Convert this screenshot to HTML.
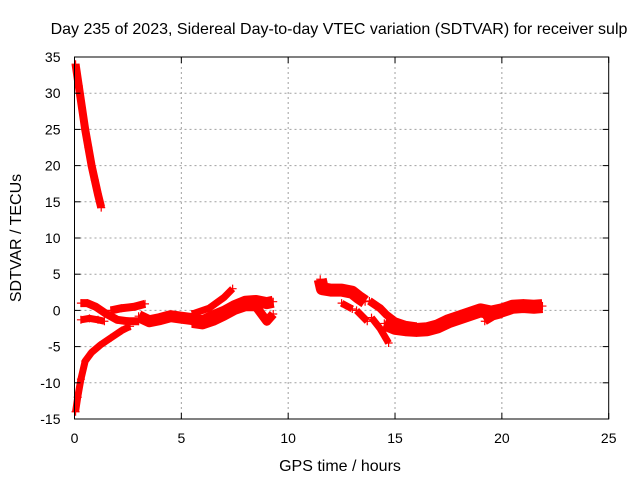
<!DOCTYPE html>
<html><head><meta charset="utf-8"><style>
body{margin:0;background:#fff}
svg text{font-family:"Liberation Sans",sans-serif;font-size:14px;fill:#000}
svg text.big{font-size:16px}
</style></head><body>
<svg id="chart" width="640" height="480" xmlns="http://www.w3.org/2000/svg">
<text class="big" x="339" y="34" text-anchor="middle">Day 235 of 2023, Sidereal Day-to-day VTEC variation (SDTVAR) for receiver sulp</text>
<text class="big" x="340" y="471" text-anchor="middle">GPS time / hours</text>
<text class="big" transform="translate(21,238) rotate(-90)" text-anchor="middle">SDTVAR / TECUs</text>
<g id="grid"></g><g id="marks"></g><g id="axes"></g>
</svg>
<script>
const xTicks=[0,5,10,15,20,25];
const yTicks=[35,30,25,20,15,10,5,0,-5,-10,-15];
const trackA_x=[0.05,0.2,0.35,0.5,0.65,0.8,0.95,1.1,1.25];
const trackA_y=[34,31,28,25,22.5,20,18,16,14.2];
const trackB_x=[0.05,0.15,0.3,0.5,0.8,1.2,1.7,2.2,2.6];
const trackB_y=[-14,-12,-9.5,-7,-5.8,-4.8,-3.8,-2.8,-2.2];
const trackC_x=[0.3,0.6,1.0,1.5,2.0,2.5,3.0];
const trackC_y=[1,1,0.5,-0.5,-1.3,-1.5,-1.5];
const trackC2_x=[0.3,0.7,1.1,1.4];
const trackC2_y=[-1.3,-1.1,-1.3,-1.5];
const trackD_x=[1.7,2.2,2.8,3.3];
const trackD_y=[0,0.3,0.5,0.9];
const main_x=[3.0,3.5,4.0,4.5,5.0,5.5,6.0,6.5,7,7.5,8,8.5,9,9.3];
const main_y=[-0.8,-1.5,-1.2,-0.8,-1,-1.2,-1.5,-0.8,-0.2,0.6,1.2,1.3,1,1.2];
const low_x=[5.5,6,6.5,7,7.5,8,8.5,9,9.3];
const low_y=[-1.8,-2,-1.5,-0.8,0,0.5,0.5,-1.5,-0.5];
const up_x=[5.5,6.3,7,7.4];
const up_y=[-0.5,0.3,1.8,3];
const e1_x=[11.5,11.6,12,12.5,13,13.3,13.6];
const e1_y=[4.3,3,2.8,2.8,2.5,1.8,1.2];
const e2_x=[12.5,13];
const e2_y=[1,0.2];
const e3_x=[13.2,13.7];
const e3_y=[0,-1.5];
const e4_x=[13.8,14.3,14.6,15,15.5,16];
const e4_y=[1.3,0.3,-0.6,-1.5,-2,-2.2];
const e5_x=[13.9,14.3,14.7];
const e5_y=[-1,-2.5,-4.5];
const e6_x=[14.5,15,15.5,16,16.5,17,17.5,18,18.5,19,19.5,20,20.5,21,21.5,21.9];
const e6_y=[-1.8,-2.4,-2.6,-2.7,-2.6,-2.2,-1.5,-1,-0.5,0,-0.3,0,0.5,0.6,0.5,0.6];
const e7_x=[19.2,19.6,20];
const e7_y=[-1.5,-0.8,-0.5];

const L=74.5,R=608.7,T=57,B=419;
const sx=v=>L+(v-0)/25*(R-L);
const sy=v=>B-(v+15)/50*(B-T);
const NS="http://www.w3.org/2000/svg";
const grid=document.getElementById('grid'),marks=document.getElementById('marks'),axes=document.getElementById('axes');
function mk(t,a,p){const e=document.createElementNS(NS,t);for(const k in a)e.setAttribute(k,a[k]);p.appendChild(e);return e;}
xTicks.forEach(v=>{
  if(v>0&&v<25){const g=mk('line',{x1:sx(v),x2:sx(v),y1:T,y2:B,stroke:'#a0a0a0','stroke-dasharray':'2,3'},grid);
  
  }
  mk('line',{x1:sx(v),x2:sx(v),y1:B,y2:B-6,stroke:'#000'},axes);
  mk('line',{x1:sx(v),x2:sx(v),y1:T,y2:T+6,stroke:'#000'},axes);
  const t=mk('text',{x:sx(v),y:B+24,'text-anchor':'middle'},axes);t.textContent=v;
  
  
});
yTicks.forEach(v=>{
  if(v>-15&&v<35){const g=mk('line',{x1:L,x2:R,y1:sy(v),y2:sy(v),stroke:'#a0a0a0','stroke-dasharray':'2,3'},grid);
  
  }
  mk('line',{x1:L,x2:L+6,y1:sy(v),y2:sy(v),stroke:'#000'},axes);
  mk('line',{x1:R,x2:R-6,y1:sy(v),y2:sy(v),stroke:'#000'},axes);
  const t=mk('text',{x:L-14,y:sy(v)+5,'text-anchor':'end'},axes);t.textContent=v;
  
  
});
const frame=mk('rect',{x:L,y:T,width:R-L,height:B-T,fill:'none',stroke:'#000'},axes);


const tracks=[[trackA_x,trackA_y,8],[trackB_x,trackB_y,7],[trackC_x,trackC_y,8],[trackC2_x,trackC2_y,7],[trackD_x,trackD_y,8],[main_x,main_y,12],[low_x,low_y,9],[up_x,up_y,7],[e1_x,e1_y,13],[e2_x,e2_y,7],[e3_x,e3_y,7],[e4_x,e4_y,8],[e5_x,e5_y,7],[e6_x,e6_y,14],[e7_x,e7_y,8]];
tracks.forEach(([xs,ys,w])=>{
  const p=mk('polyline',{points:xs.map((x,i)=>sx(x)+','+sy(ys[i])).join(' '),fill:'none',stroke:'#f00','stroke-width':w,'stroke-linejoin':'round','stroke-linecap':'butt'},marks);
  
  
  xs.forEach((x,i)=>{
    const c=mk('path',{d:`M${sx(x)-4},${sy(ys[i])}h8M${sx(x)},${sy(ys[i])-4}v8`,stroke:'#f00','stroke-width':1.2},marks);
    
    
  });
});
</script>
</body></html>
